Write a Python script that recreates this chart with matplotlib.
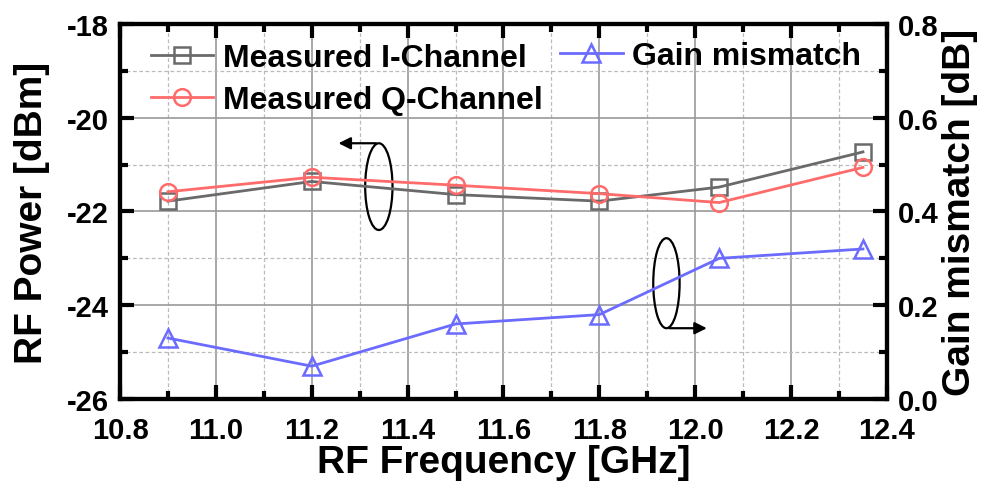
import numpy as np
import matplotlib
matplotlib.use("Agg")
import matplotlib.pyplot as plt
from matplotlib.patches import Ellipse
from matplotlib.ticker import MultipleLocator

plt.rcParams['font.family'] = ['Liberation Sans', 'DejaVu Sans']
plt.rcParams['font.weight'] = 'bold'

# data
freq = [10.9, 11.2, 11.5, 11.8, 12.05, 12.35]
i_chan = [-21.78, -21.36, -21.64, -21.78, -21.48, -20.73]
q_chan = [-21.58, -21.27, -21.44, -21.62, -21.81, -21.06]
gain_mm = [0.13, 0.07, 0.16, 0.18, 0.30, 0.32]

c_i = "#6a6a6a"
c_q = "#ff6b6b"
c_g = "#6b6bff"

fig = plt.figure(figsize=(9.87, 4.89), dpi=100)
ax1 = fig.add_axes([0.1216, 0.182, 0.777, 0.767])
ax2 = ax1.twinx()

l1, = ax1.plot(freq, i_chan, color=c_i, lw=2, marker="s", ms=11, mfc="none",
               mew=1.8, label="Measured I-Channel")
l2, = ax1.plot(freq, q_chan, color=c_q, lw=2, marker="o", ms=12, mfc="none",
               mew=1.8, label="Measured Q-Channel")
l3, = ax2.plot(freq, gain_mm, color=c_g, lw=2, marker="^", ms=13, mfc="none",
               mew=1.8, label="Gain mismatch")

ax1.set_xlim(10.8, 12.4)
ax1.set_ylim(-26, -18)
ax2.set_ylim(0.0, 0.8)

ax1.xaxis.set_major_locator(MultipleLocator(0.2))
ax1.xaxis.set_minor_locator(MultipleLocator(0.1))
ax1.yaxis.set_major_locator(MultipleLocator(2))
ax1.yaxis.set_minor_locator(MultipleLocator(1))
ax2.yaxis.set_major_locator(MultipleLocator(0.2))
ax2.yaxis.set_minor_locator(MultipleLocator(0.1))
ax1.xaxis.set_major_formatter(plt.FormatStrFormatter("%.1f"))
ax1.yaxis.set_major_formatter(plt.FormatStrFormatter("%d"))
ax2.yaxis.set_major_formatter(plt.FormatStrFormatter("%.1f"))

ax1.grid(which="major", color="#999999", lw=1.2, ls="-")
ax1.grid(which="minor", color="#bbbbbb", lw=0.9, ls=(0, (3, 2)))
ax1.set_axisbelow(True)

for ax in (ax1, ax2):
    for s in ax.spines.values():
        s.set_linewidth(3)
    ax.tick_params(which="major", direction="in", length=10, width=3,
                   labelsize=21, pad=8)
    ax.tick_params(which="minor", direction="in", length=6, width=3)
ax1.tick_params(which="both", top=True, right=False)
ax1.tick_params(axis="x", which="major", pad=12)
ax2.tick_params(which="both", right=True, left=False)

ax1.set_xlabel("RF Frequency [GHz]", fontsize=28, fontweight="bold", labelpad=0)
ax1.set_ylabel("RF Power [dBm]", fontsize=28, fontweight="bold", labelpad=12)
ax2.set_ylabel("Gain mismatch [dB]", fontsize=28, fontweight="bold", labelpad=2)

leg1 = ax2.legend(handles=[l1, l2], loc="upper left", bbox_to_anchor=(0.04, 0.948),
                  frameon=False, fontsize=23, handlelength=1.95, handletextpad=0.3,
                  labelspacing=0.36, borderaxespad=0, borderpad=0)
for t in leg1.get_texts():
    t.set_fontweight("bold")
ax2.add_artist(leg1)
leg2 = ax2.legend(handles=[l3], loc="upper left", bbox_to_anchor=(0.574, 0.955),
                  frameon=False, fontsize=23, handlelength=1.95, handletextpad=0.3,
                  borderaxespad=0, borderpad=0)
for t in leg2.get_texts():
    t.set_fontweight("bold")

# ellipses with arrows
ax1.add_patch(Ellipse((11.34, -21.47), 0.057, 1.85, fill=False, ec="black", lw=1.6))
ax1.annotate("", xy=(11.25, -20.545), xytext=(11.34, -20.545),
             arrowprops=dict(arrowstyle="-|>", color="black", lw=1.6, mutation_scale=18))
ax2.add_patch(Ellipse((11.94, 0.247), 0.055, 0.192, fill=False, ec="black", lw=1.6))
ax2.annotate("", xy=(12.03, 0.151), xytext=(11.94, 0.151),
             arrowprops=dict(arrowstyle="-|>", color="black", lw=1.6, mutation_scale=18))

fig.savefig("out.png", dpi=100)
